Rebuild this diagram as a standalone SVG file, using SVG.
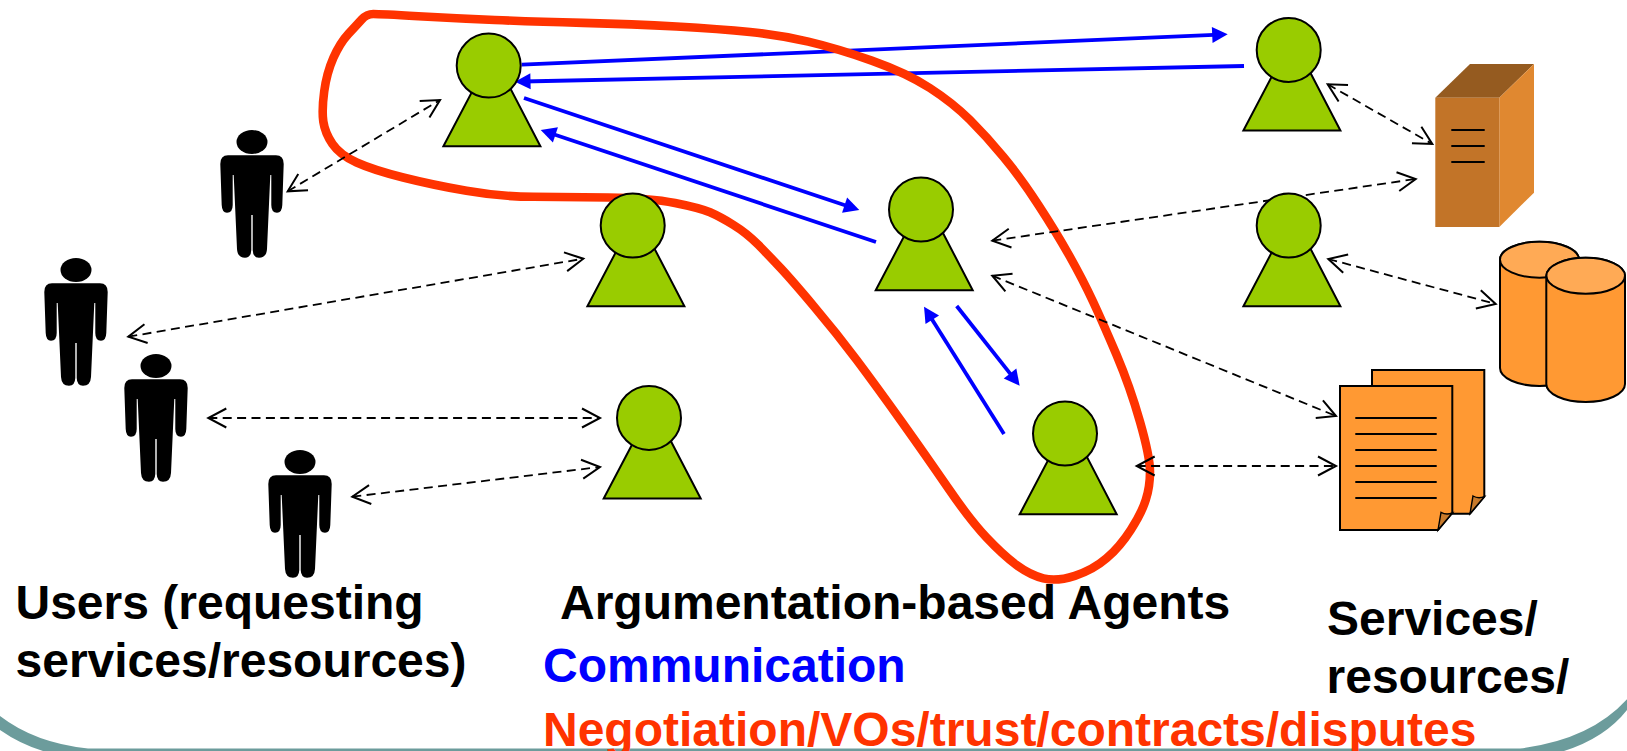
<svg xmlns="http://www.w3.org/2000/svg" xmlns:xlink="http://www.w3.org/1999/xlink" width="1627" height="751" viewBox="0 0 1627 751">
<style>
.lbl{font-family:"Liberation Sans",Arial,sans-serif;font-weight:700;font-size:48px}
.blue{fill:none;stroke:#0000ff;stroke-width:3.8;marker-end:url(#tri)}
.dash{fill:none;stroke:#000;stroke-width:1.8;stroke-dasharray:9 5.4;marker-start:url(#openS);marker-end:url(#openE)}
.ln{stroke:#000;stroke-width:1.8;fill:none}
.sh{stroke:#000;stroke-width:2;fill:#ff9933}
.fold{stroke:#000;stroke-width:1.4;fill:#c77a2c}
</style>
<defs>
<marker id="tri" markerUnits="userSpaceOnUse" viewBox="-16 -10 26 20" markerWidth="26" markerHeight="20" refX="0" refY="0" orient="auto"><path d="M-7.5,-8 L8,0 L-7.5,8 Z" fill="#0000ff"/></marker>
<marker id="openE" markerUnits="userSpaceOnUse" viewBox="-22 -12 26 24" markerWidth="26" markerHeight="24" refX="0" refY="0" orient="auto"><path d="M-18,-9.5 L0,0 L-18,9.5" fill="none" stroke="#000" stroke-width="2"/></marker>
<marker id="openS" markerUnits="userSpaceOnUse" viewBox="-4 -12 26 24" markerWidth="26" markerHeight="24" refX="0" refY="0" orient="auto"><path d="M18,-9.5 L0,0 L18,9.5" fill="none" stroke="#000" stroke-width="2"/></marker>
<g id="agent"><path d="M3.5,-11.6 L51.7,81.3 L-45.3,81.3 Z" fill="#99cc00" stroke="#000" stroke-width="2"/><circle cy="0.6" r="32" fill="#99cc00" stroke="#000" stroke-width="2"/></g>
<g id="person"><ellipse rx="15.5" ry="12"/><path d="M-24,13.3 H24 Q31.7,13.3 31.7,22 L30.3,63 Q30,70.7 25,70.7 Q19.3,70.7 19.3,63 L19.3,33 L18.3,33 L15,107 Q14.5,115.7 7,115.7 Q1,115.7 0.7,108 L0.7,73 L-0.7,73 L-0.7,108 Q-1,115.7 -7,115.7 Q-14.5,115.7 -15,107 L-18.3,33 L-19.3,33 L-19.3,63 Q-19.3,70.7 -25,70.7 Q-30,70.7 -30.3,63 L-31.7,22 Q-31.7,13.3 -24,13.3 Z"/></g>
</defs>
<rect width="1627" height="751" fill="#fff"/>
<g id="slide-frame" fill="#6c9c9c">
<path d="M0,716 Q35,743 88,748.5 H1520 Q1590,740 1627,699.3 V710 Q1605,738 1564,751 H43 Q20,744 0,730 Z"/>
</g>
<g id="connectors">
<g id="communication">
<line class="blue" x1="521.7" y1="64.7" x2="1219.7" y2="34.6"/>
<line class="blue" x1="1244" y1="66" x2="523" y2="81.5"/>
<line class="blue" x1="524" y1="98" x2="851.7" y2="207.5"/>
<line class="blue" x1="876" y1="242" x2="548.3" y2="132.5"/>
<line class="blue" x1="956.7" y1="306" x2="1014.7" y2="379.4"/>
<line class="blue" x1="1004" y1="434" x2="928.3" y2="313.5"/>
</g>
<path id="negotiation-loop" fill="none" stroke="#ff3300" stroke-width="8.6" stroke-linejoin="round" d="M373.3,14 Q380,14 418.3,16.2 Q456.7,18.3 494.8,20 Q533,21.7 583,22.9 Q633,24 676.5,26.5 Q720,29 750,32 Q780,35 808.3,41.6 Q836.7,48.3 871.7,60.6 Q906.7,73 929.8,88 Q953,103 969.8,119.8 Q986.7,136.7 1003.3,156.7 Q1020,176.7 1038.3,204.8 Q1056.7,233 1069.8,256.5 Q1083,280 1093,301.5 Q1103,323 1116.5,354.8 Q1130,386.7 1140,421.7 Q1150,456.7 1150,471.7 Q1150,486.7 1145.8,499.8 Q1141.7,513 1130.8,529.8 Q1120,546.7 1106.5,558.3 Q1093,570 1074.8,575.8 Q1056.7,581.7 1043.3,578.3 Q1030,575 1016.5,565 Q1003,555 986.5,537.5 Q970,520 948.3,488.3 Q926.7,456.7 901.7,421.7 Q876.7,386.7 856.7,360 Q836.7,333.3 814.2,306.7 Q791.7,280 780.8,268.3 Q770,256.7 758.3,244.8 Q746.7,233 733.3,224.8 Q720,216.7 710,212.3 Q700,208 675,203 Q650,198 608.3,197.5 Q566.7,197 533.3,196.8 Q500,196.7 466.5,190.8 Q433,185 403.2,177.5 Q373.3,170 356.7,162.5 Q340,155 332.5,144 Q325,133 323.3,121.5 Q321.7,110 324.2,91.5 Q326.7,73 333.3,58 Q340,43 348.3,34 Q356.7,25 361.7,19.5 Q366.7,14 373.3,14 Z"/>
<g id="access">
<line class="dash" x1="287.7" y1="191.3" x2="440" y2="100"/>
<line class="dash" x1="128.3" y1="336.7" x2="583.3" y2="258.7"/>
<line class="dash" x1="208.3" y1="418" x2="600" y2="418"/>
<line class="dash" x1="352.3" y1="496.7" x2="600" y2="467"/>
<line class="dash" x1="1327.7" y1="84.3" x2="1432.3" y2="144"/>
<line class="dash" x1="992.3" y1="240.7" x2="1415.7" y2="179"/>
<line class="dash" x1="1328.3" y1="259" x2="1495.7" y2="304"/>
<line class="dash" x1="992.3" y1="275.7" x2="1336" y2="416"/>
<line class="dash" x1="1136.7" y1="466" x2="1336" y2="466"/>
</g>
</g>
<g id="user-1"><use href="#person" x="252" y="142"/></g>
<g id="user-2"><use href="#person" x="76" y="270"/></g>
<g id="user-3"><use href="#person" x="156" y="366"/></g>
<g id="user-4"><use href="#person" x="300" y="462"/></g>
<g id="agent-a"><use href="#agent" x="488.7" y="65"/></g>
<g id="agent-b"><use href="#agent" x="1288.7" y="49.3"/></g>
<g id="agent-c"><use href="#agent" x="1288.7" y="225"/></g>
<g id="agent-d"><use href="#agent" x="632.7" y="225"/></g>
<g id="agent-e"><use href="#agent" x="921" y="209"/></g>
<g id="agent-f"><use href="#agent" x="649" y="417.3"/></g>
<g id="agent-g"><use href="#agent" x="1065" y="433"/></g>
<g id="server">
<path d="M1435.3,97.7 L1470,64 H1534 L1499.3,97.7 Z" fill="#955b20"/>
<path d="M1499.3,97.7 L1534,64 V192.7 L1499.3,227 Z" fill="#e08830"/>
<rect x="1435.3" y="97.7" width="64" height="129.3" fill="#c27428"/>
<path class="ln" d="M1451.3,130 H1484.7 M1451.3,146 H1484.7 M1451.3,162 H1484.7"/>
</g>
<g id="database">
<path class="sh" d="M1500,259.7 V368 A39.5,18 0 0 0 1579,368 V259.7 A39.5,18 0 0 0 1500,259.7 Z"/>
<ellipse cx="1539.5" cy="259.7" rx="39.5" ry="18" fill="#ffaa55" stroke="#000" stroke-width="2"/>
<path class="sh" d="M1546.3,275.8 V384 A39.3,18 0 0 0 1625,384 V275.8 A39.3,18 0 0 0 1546.3,275.8 Z"/>
<ellipse cx="1585.7" cy="275.8" rx="39.3" ry="18" fill="#ffaa55" stroke="#000" stroke-width="2"/>
</g>
<g id="documents">
<path class="sh" d="M1372,370 H1484.3 V496.7 L1470,513.7 H1372 Z"/>
<path class="fold" d="M1470,513.7 L1473,496 Q1478,499 1484.3,496.7 Z"/>
<path class="sh" d="M1340,386 H1452.3 V513 L1438,530 H1340 Z"/>
<path class="fold" d="M1438,530 L1441,512.3 Q1446,515.3 1452.3,513 Z"/>
<path class="ln" d="M1355.3,418 H1436.7 M1355.3,434 H1436.7 M1355.3,450 H1436.7 M1355.3,466 H1436.7 M1355.3,482 H1436.7 M1355.3,498 H1436.7"/>
</g>
<g id="labels">
<text class="lbl" x="15.5" y="619">Users (requesting</text>
<text class="lbl" x="15.5" y="676.5">services/resources)</text>
<text class="lbl" x="560" y="618.5">Argumentation-based Agents</text>
<text class="lbl" x="543" y="682" fill="#0000ff">Communication</text>
<text class="lbl" x="543" y="746" fill="#ff3300">Negotiation/VOs/trust/contracts/disputes</text>
<text class="lbl" x="1327" y="635">Services/</text>
<text class="lbl" x="1326.5" y="692.5">resources/</text>
</g>
</svg>
